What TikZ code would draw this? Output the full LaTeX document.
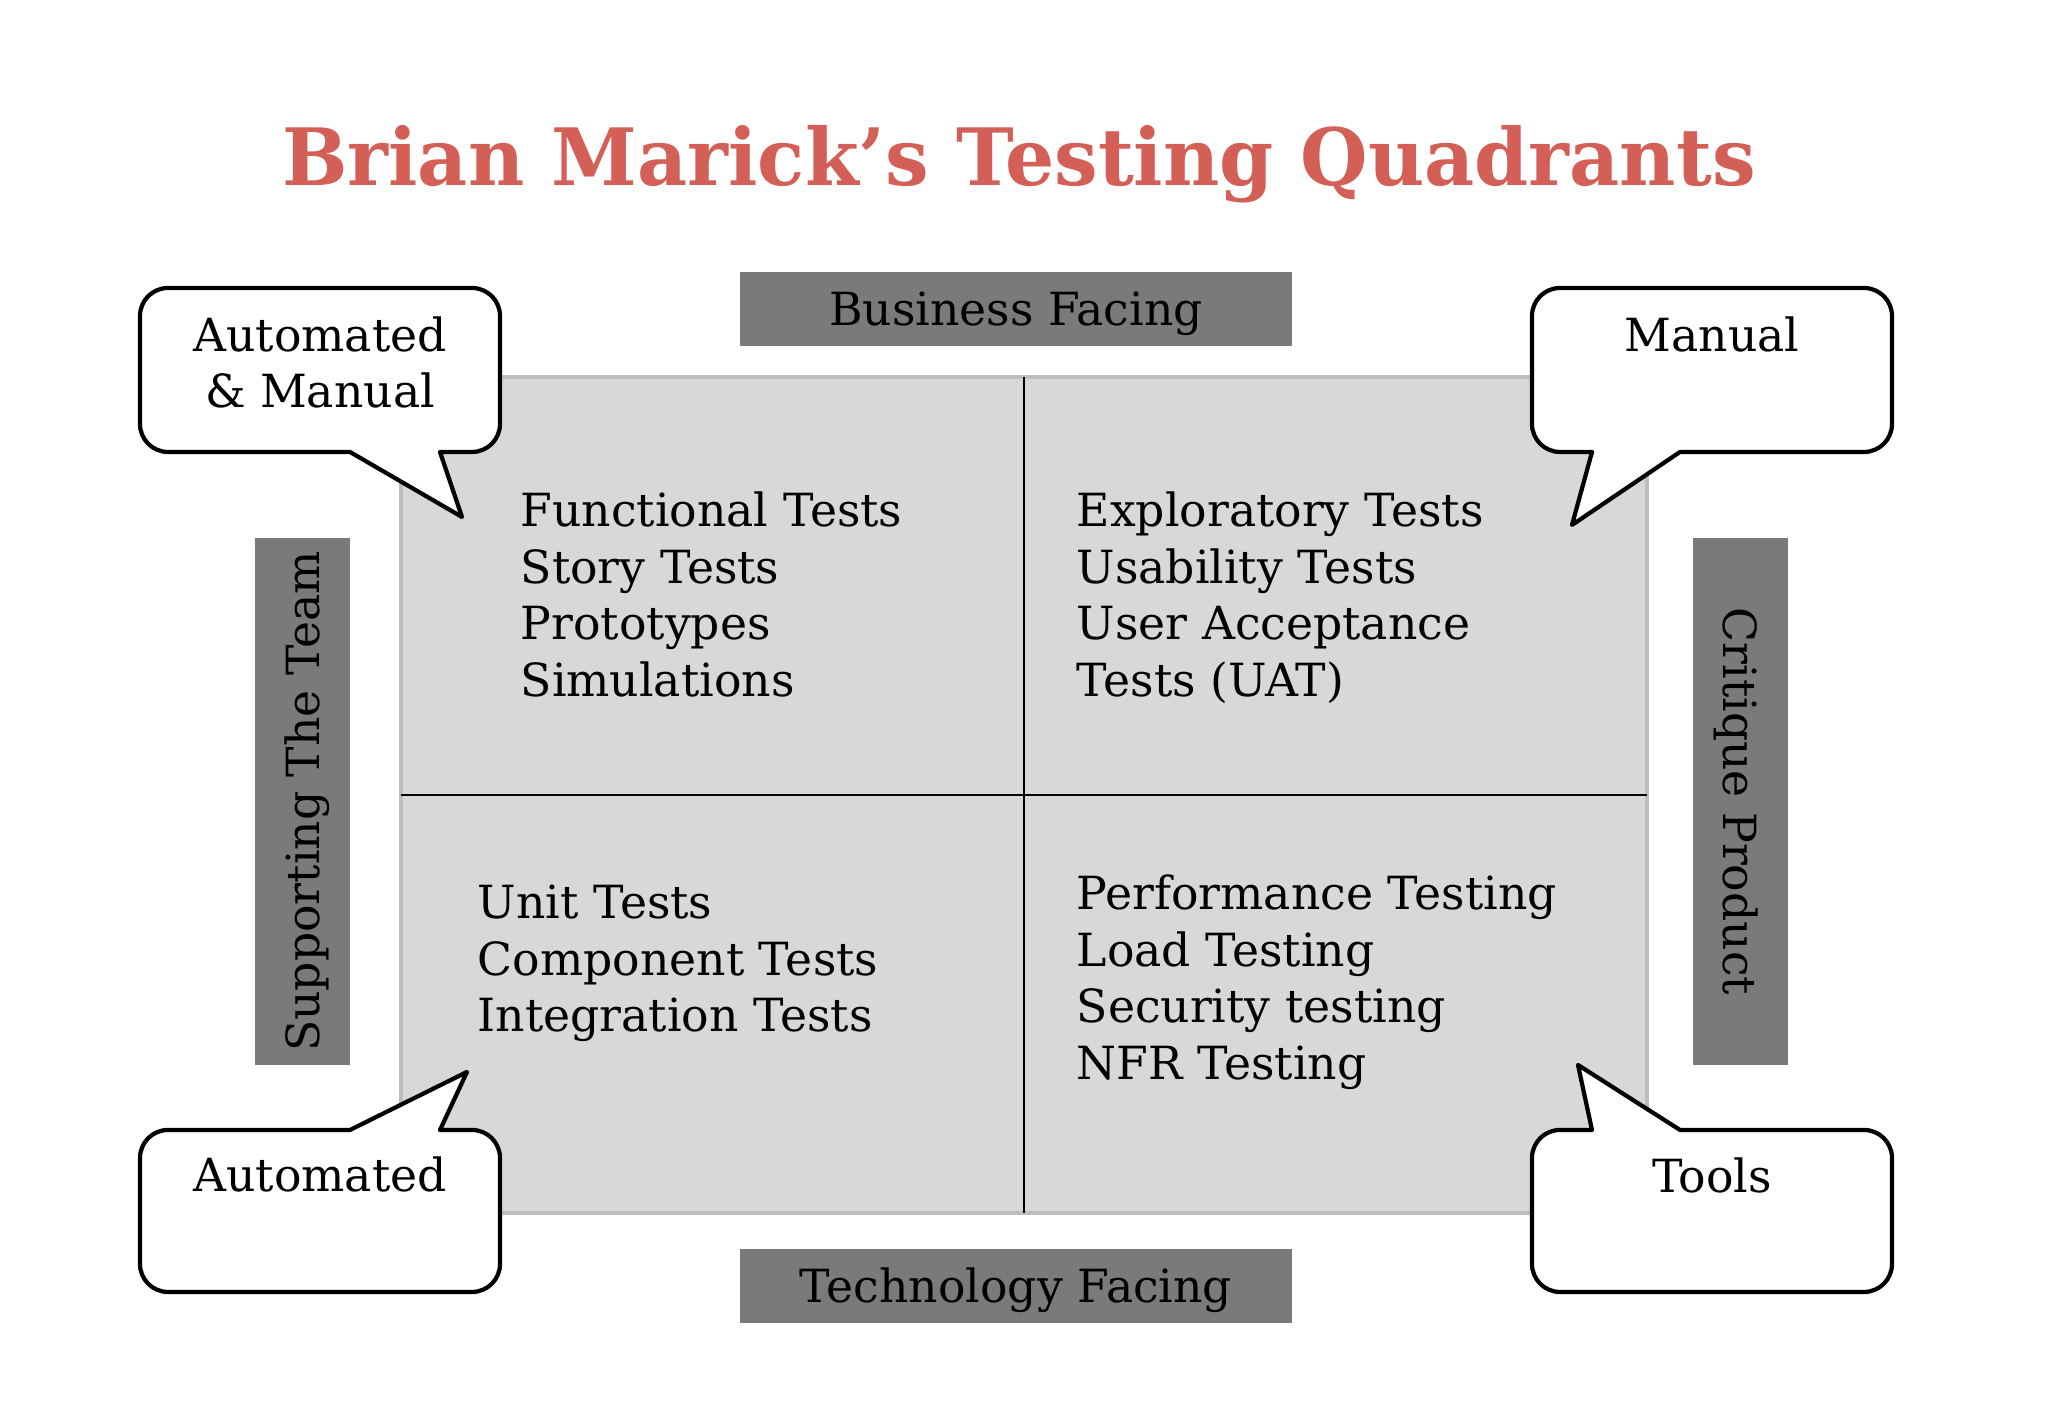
\documentclass[tikz,border=0pt]{standalone}
\usepackage{fontspec}
\setmainfont{DejaVu Serif}
\newfontfamily\titlefont{DejaVu Serif}[FakeStretch=0.98]
\definecolor{titlered}{HTML}{D35F56}
\definecolor{quadfill}{HTML}{D9D7DA}
\definecolor{quadborder}{HTML}{BDBCBE}
\definecolor{barfill}{HTML}{7A797B}

\begin{document}
\begin{tikzpicture}[
title/.style={text=titlered, inner sep=0, anchor=base, font=\titlefont\bfseries\fontsize{22.5}{27}\selectfont},
item/.style={anchor=base west, inner sep=0, font=\fontsize{13}{15}\selectfont},
bar/.style={fill=barfill, inner sep=0, text height=9.48pt, text depth=0pt, font=\fontsize{13}{15}\selectfont},
callout/.style={draw=black, fill=white, line width=1.2pt, line join=round},
calloutlabel/.style={anchor=base, inner sep=0, font=\fontsize{13}{15}\selectfont},
quadrant/.style={fill=quadfill, draw=quadborder, line width=1.3pt},
divider/.style={black, line width=0.5pt},
]
\fill[white] (0,0) rectangle (20.48,14.18); %%%%%%% SIZE OF THE PICTURE
\useasboundingbox (0,0) rectangle (20.48,14.18);

%%%%%%%%%%%%%%%%%%%%%%%% TITLE %%%%%%%%%%%%%%%%%%%%%%%%
\node[title] (title) at (10.19,12.32) {Brian Marick’s Testing Quadrants};

%%%%%%%%%%%%%%%%%%%%%%%% QUADRANTS %%%%%%%%%%%%%%%%%%%%%%%%
\coordinate (QSW) at (4.01,2.05);
\coordinate (QNE) at (16.47,10.41);
\coordinate (QTop) at (10.24,10.41);
\coordinate (QBottom) at (10.24,2.05);
\coordinate (QLeft) at (4.01,6.23);
\coordinate (QRight) at (16.47,6.23);
\draw[quadrant] (QSW) rectangle (QNE);
\draw[divider] (QTop) -- (QBottom);
\draw[divider] (QLeft) -- (QRight);

%%%%%%%%% BARS %%%%%%%%%
\node[bar, minimum width=5.52cm, minimum height=0.74cm] (business) at (10.16,11.09) {Business Facing};
\node[bar, minimum width=5.52cm, minimum height=0.74cm] (technology) at (10.16,1.32) {Technology Facing};
\node[bar, minimum width=5.27cm, minimum height=0.95cm, rotate=90] (supporting) at (3.025,6.165) {Supporting The Team};
\node[bar, minimum width=5.27cm, minimum height=0.95cm, rotate=-90] (critique) at (17.405,6.165) {Critique Product};

%%%%%%%%% TEXT IN THE QUADRANTS %%%%%%%%%
\foreach \txt [count=\i from 0] in {Functional Tests, Story Tests, Prototypes, Simulations}
  \node[item] (Q1L\i) at (5.20,{8.91-0.565*\i}) {\txt};
\foreach \txt [count=\i from 0] in {Exploratory Tests, Usability Tests, User Acceptance, Tests (UAT)}
  \node[item] (Q2L\i) at (10.76,{8.91-0.565*\i}) {\txt};
\foreach \txt [count=\i from 0] in {Unit Tests, Component Tests, Integration Tests}
  \node[item] (Q3L\i) at (4.77,{4.99-0.565*\i}) {\txt};
\foreach \txt [count=\i from 0] in {Performance Testing, Load Testing, Security testing, NFR Testing}
  \node[item] (Q4L\i) at (10.76,{5.08-0.565*\i}) {\txt};

%%%%%%%%%%%%%%%%%%%%%%%% CALLOUTS %%%%%%%%%%%%%%%%%%%%%%%%
\coordinate (TipAM) at (4.62,9.01);
\coordinate (TipM) at (15.72,8.93);
\coordinate (TipA) at (4.67,3.46);
\coordinate (TipT) at (15.78,3.53);

% top left
\draw[callout] (4.40,9.66) [rounded corners=0.28cm] -- (5.00,9.66) -- (5.00,11.30) -- (1.40,11.30) -- (1.40,9.66) [sharp corners] -- (3.50,9.66) -- (TipAM) -- cycle;
\node[calloutlabel] (am1) at (3.20,10.66) {Automated};
\node[calloutlabel] (am2) at (3.20,10.10) {\& Manual};
% top right
\draw[callout] (16.80,9.66) [rounded corners=0.28cm] -- (18.92,9.66) -- (18.92,11.30) -- (15.32,11.30) -- (15.32,9.66) [sharp corners] -- (15.92,9.66) -- (TipM) -- cycle;
\node[calloutlabel] (m1) at (17.12,10.66) {Manual};
% bottom left
\draw[callout] (4.40,2.88) [rounded corners=0.28cm] -- (5.00,2.88) -- (5.00,1.26) -- (1.40,1.26) -- (1.40,2.88) [sharp corners] -- (3.50,2.88) -- (TipA) -- cycle;
\node[calloutlabel] (a1) at (3.20,2.26) {Automated};
% bottom right
\draw[callout] (16.80,2.88) [rounded corners=0.28cm] -- (18.92,2.88) -- (18.92,1.26) -- (15.32,1.26) -- (15.32,2.88) [sharp corners] -- (15.92,2.88) -- (TipT) -- cycle;
\node[calloutlabel] (t1) at (17.12,2.25) {Tools};
\end{tikzpicture}
\end{document}
